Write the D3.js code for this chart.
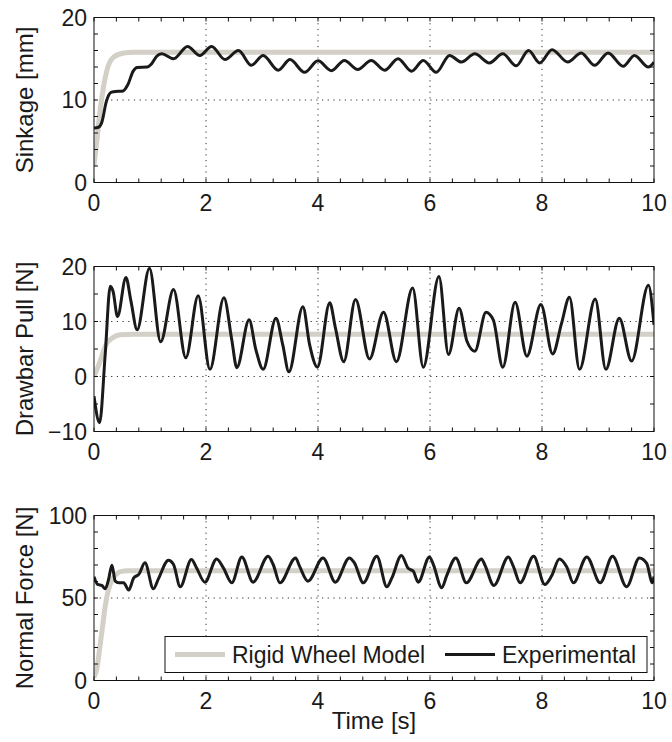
<!DOCTYPE html>
<html>
<head>
<meta charset="utf-8">
<script src="https://cdn.jsdelivr.net/npm/d3@7"></script>
<style>
  body { margin: 0; background: #fff; }
  text { font-family: "Liberation Sans", Arial, Helvetica, sans-serif; fill: #1a1a1a; }
</style>
</head>
<body>
<svg id="chart" width="672" height="742"></svg>
<script>
// ---- data ----
const timeTicks = [0, 2, 4, 6, 8, 10];

// Sinkage [mm]
const sinkModelT = [0, 0.05, 0.11, 0.17, 0.23, 0.35, 0.53, 0.7, 10];
const sinkModelV = [2.0, 5.0, 8.8, 11.6, 13.6, 15.2, 15.7, 15.8, 15.8];
const sinkExpT = [0, 0.08, 0.14, 0.22, 0.3, 0.35, 0.52, 0.6, 0.7, 0.77, 0.95, 1.03, 1.12, 1.21,
  1.42, 1.67, 1.89, 2.1, 2.34, 2.58, 2.81, 3.02, 3.29, 3.5, 3.76, 4.0, 4.24, 4.47, 4.71, 4.95,
  5.19, 5.43, 5.67, 5.88, 6.11, 6.35, 6.56, 6.8, 7.06, 7.3, 7.54, 7.76, 7.96, 8.18, 8.46, 8.7,
  8.94, 9.18, 9.45, 9.65, 9.9, 10];
const sinkExpV = [6.6, 6.7, 7.3, 9.8, 10.9, 11.0, 11.1, 11.8, 13.5, 13.95, 14.0, 14.4, 15.3, 15.6,
  15.0, 16.5, 15.4, 16.5, 14.9, 16.0, 14.2, 15.4, 13.6, 14.9, 13.35, 14.75, 13.55, 14.8, 13.7, 14.8,
  13.6, 15.0, 13.5, 14.8, 13.35, 15.4, 14.6, 15.6, 14.5, 15.6, 14.15, 16.0, 14.5, 16.1, 14.6, 15.7,
  14.2, 15.7, 14.1, 15.4, 14.0, 14.6];

// Drawbar Pull [N]
const pullModelT = [0, 0.05, 0.11, 0.17, 0.23, 0.29, 0.47, 0.7, 10];
const pullModelV = [0, 1.2, 2.8, 4.6, 6.1, 6.7, 7.6, 7.7, 7.7];
const pullExpT = [0, 0.1, 0.2, 0.29, 0.34, 0.42, 0.57, 0.66, 0.77, 0.99, 1.19, 1.42, 1.64, 1.86,
  2.07, 2.32, 2.46, 2.55, 2.77, 2.89, 3.02, 3.25, 3.37, 3.48, 3.73, 3.85, 3.99, 4.21, 4.31, 4.46,
  4.67, 4.92, 5.17, 5.4, 5.69, 5.88, 6.16, 6.33, 6.52, 6.66, 6.8, 7.0, 7.13, 7.3, 7.52, 7.73,
  7.98, 8.19, 8.35, 8.49, 8.67, 8.95, 9.14, 9.38, 9.6, 9.9, 10];
const pullExpV = [-3.6, -8.4, 4.0, 16.4, 15.5, 10.9, 18.0, 13.7, 8.5, 19.7, 6.3, 15.8, 3.4, 14.7,
  1.3, 14.3, 6.7, 1.6, 10.3, 4.9, 1.3, 10.6, 5.8, 0.85, 12.7, 5.8, 1.7, 13.4, 8.9, 2.7,
  14.0, 3.2, 11.7, 2.7, 16.1, 1.7, 18.2, 4.0, 12.4, 6.4, 4.6, 11.7, 10.3, 1.7, 13.5, 3.7,
  13.1, 4.1, 9.7, 14.4, 1.3, 14.1, 1.3, 10.6, 2.8, 16.6, 9.4];

// Normal Force [N]
const normModelT = [0, 0.05, 0.1, 0.15, 0.2, 0.25, 0.32, 0.4, 0.47, 0.6, 10];
const normModelV = [2, 7, 19, 32, 45, 54, 61, 64.5, 66, 66.5, 66.5];
const normExpT = [0, 0.065, 0.14, 0.2, 0.26, 0.32, 0.38, 0.44, 0.53, 0.62, 0.71, 0.8, 0.91, 1.06,
  1.15, 1.33, 1.42, 1.54, 1.74, 1.83, 1.98, 2.19, 2.31, 2.46, 2.64, 2.84, 3.11, 3.2, 3.32, 3.6,
  3.67, 3.82, 4.09, 4.31, 4.56, 4.65, 4.81, 5.05, 5.23, 5.32, 5.49, 5.61, 5.7, 5.79, 5.99, 6.06,
  6.21, 6.3, 6.46, 6.65, 6.92, 6.98, 7.14, 7.4, 7.49, 7.61, 7.85, 8.05, 8.17, 8.31, 8.44, 8.56,
  8.8, 9.04, 9.26, 9.51, 9.74, 9.87, 9.97, 10];
const normExpV = [62.9, 58.2, 57.6, 55.6, 61.2, 69.9, 60.2, 59.2, 59.2, 54.8, 62.2, 64.3, 71.3, 55.6,
  61.6, 72.9, 70.3, 56.8, 73.3, 68.3, 59.6, 73.7, 68.3, 59.2, 74.9, 59.6, 75.3, 70.3, 59.2, 74.3,
  69.3, 60.2, 74.3, 59.6, 74.3, 71.3, 59.2, 75.3, 56.8, 62.2, 75.7, 68, 66.3, 59.6, 74.9, 70.3,
  56.2, 63.7, 74.3, 59.2, 73.7, 70, 57.6, 74.9, 69, 59.2, 75.3, 58.2, 63.3, 73.7, 69, 59.2,
  74.9, 59.2, 75.3, 56.8, 74.3, 71, 59.2, 63];

const seriesNames = ["Rigid Wheel Model", "Experimental"];

// ---- layout ----
const svg = d3.select("#chart");
const left = 94, right = 654, plotH = 165;
const modelColor = "#d3d0c8", expColor = "#1a1a1a";
const zip = (t, v) => t.map((x, i) => [x, v[i]]);

const panels = [
  { top: 17.5, domain: [0, 20], ticks: [0, 10, 20], minor: 2, label: "Sinkage [mm]",
    model: zip(sinkModelT, sinkModelV), exp: zip(sinkExpT, sinkExpV) },
  { top: 266.5, domain: [-10, 20], ticks: [-10, 0, 10, 20], minor: 5, label: "Drawbar Pull [N]",
    model: zip(pullModelT, pullModelV), exp: zip(pullExpT, pullExpV) },
  { top: 515.5, domain: [0, 100], ticks: [0, 50, 100], minor: 10, label: "Normal Force [N]",
    model: zip(normModelT, normModelV), exp: zip(normExpT, normExpV) }
];

const x = d3.scaleLinear().domain([0, 10]).range([left, right]);
const xMinor = d3.range(0, 10.001, 0.4);
const tickLen = 4;

panels.forEach((p, i) => {
  const bottom = p.top + plotH;
  const y = d3.scaleLinear().domain(p.domain).range([bottom, p.top]);
  const g = svg.append("g");

  // clip
  const clipId = "clip" + i;
  svg.append("clipPath").attr("id", clipId)
    .append("rect").attr("x", left).attr("y", p.top).attr("width", right - left).attr("height", plotH);

  // dotted grid at interior major ticks
  const grid = g.append("g").attr("stroke", "#333").attr("stroke-width", 1)
    .attr("stroke-dasharray", "1.2,4.5");
  timeTicks.filter(t => t > 0 && t < 10).forEach(t => {
    grid.append("line").attr("x1", x(t)).attr("x2", x(t)).attr("y1", p.top).attr("y2", bottom);
  });
  p.ticks.filter(v => v > p.domain[0] && v < p.domain[1]).forEach(v => {
    grid.append("line").attr("x1", left).attr("x2", right).attr("y1", y(v)).attr("y2", y(v));
  });

  // curves
  const line = d3.line().x(d => x(d[0])).y(d => y(d[1])).curve(d3.curveMonotoneX);
  const curves = g.append("g").attr("clip-path", `url(#${clipId})`);
  curves.append("path").datum(p.model).attr("d", line)
    .attr("fill", "none").attr("stroke", modelColor).attr("stroke-width", 5)
    .attr("stroke-linejoin", "round");
  curves.append("path").datum(p.exp).attr("d", line)
    .attr("fill", "none").attr("stroke", expColor).attr("stroke-width", 3)
    .attr("stroke-linejoin", "round");

  // ticks (inside, all four sides)
  const tk = g.append("g").attr("stroke", "#111").attr("stroke-width", 1);
  xMinor.forEach(t => {
    const px = x(t);
    tk.append("line").attr("x1", px).attr("x2", px).attr("y1", bottom).attr("y2", bottom - tickLen);
    tk.append("line").attr("x1", px).attr("x2", px).attr("y1", p.top).attr("y2", p.top + tickLen);
  });
  d3.range(p.domain[0], p.domain[1] + 0.001, p.minor).forEach(v => {
    const py = y(v);
    tk.append("line").attr("x1", left).attr("x2", left + tickLen).attr("y1", py).attr("y2", py);
    tk.append("line").attr("x1", right).attr("x2", right - tickLen).attr("y1", py).attr("y2", py);
  });

  // frame
  g.append("rect").attr("x", left).attr("y", p.top).attr("width", right - left).attr("height", plotH)
    .attr("fill", "none").attr("stroke", "#111").attr("stroke-width", 1);

  // tick labels
  p.ticks.forEach(v => {
    g.append("text").attr("x", left - 7).attr("y", y(v)).attr("dy", "0.36em")
      .attr("text-anchor", "end").attr("font-size", 23)
      .text(v < 0 ? "\u2212" + Math.abs(v) : v);
  });
  timeTicks.forEach(t => {
    g.append("text").attr("x", x(t)).attr("y", bottom + 28).attr("text-anchor", "middle")
      .attr("font-size", 23).text(t);
  });

  // y label
  g.append("text").attr("transform", `translate(33,${p.top + plotH / 2}) rotate(-90)`)
    .attr("text-anchor", "middle").attr("font-size", 24).text(p.label);

  // legend in the last panel
  if (i === panels.length - 1) {
    const lx = 165, ly = bottom - 44, lw = 482, lh = 36, cy = ly + lh / 2;
    const lg = g.append("g");
    lg.append("rect").attr("x", lx).attr("y", ly).attr("width", lw).attr("height", lh)
      .attr("fill", "#fff").attr("stroke", "#111").attr("stroke-width", 1);
    lg.append("line").attr("x1", lx + 10).attr("x2", lx + 60).attr("y1", cy).attr("y2", cy)
      .attr("stroke", modelColor).attr("stroke-width", 5);
    lg.append("text").attr("x", lx + 67).attr("y", cy + 8.5).attr("font-size", 23).text(seriesNames[0]);
    lg.append("line").attr("x1", lx + 280).attr("x2", lx + 330).attr("y1", cy).attr("y2", cy)
      .attr("stroke", expColor).attr("stroke-width", 3);
    lg.append("text").attr("x", lx + 337).attr("y", cy + 8.5).attr("font-size", 23).text(seriesNames[1]);
  }
});

// x-axis title
svg.append("text").attr("x", (left + right) / 2).attr("y", 729).attr("text-anchor", "middle")
  .attr("font-size", 24).text("Time [s]");
</script>
</body>
</html>
